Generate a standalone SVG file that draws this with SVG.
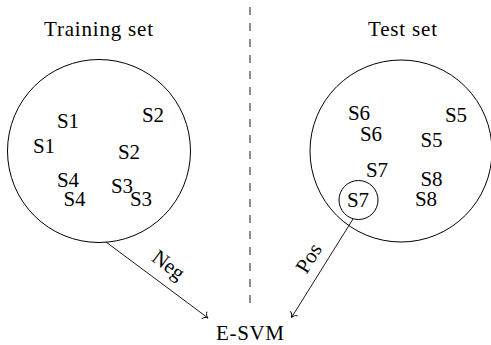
<svg xmlns="http://www.w3.org/2000/svg" width="491" height="345" viewBox="0 0 491 345">
  <defs>
    <style>
      text { font-family: "Liberation Serif", "DejaVu Serif", "Times New Roman", serif; font-size: 21px; fill: #000; text-anchor: middle; }
      .ring { fill: none; stroke: #000; stroke-width: 1; }
      .edge { fill: none; stroke: #000; stroke-width: 0.9; marker-end: url(#to); }
      .divider { fill: none; stroke: #000; stroke-width: 0.9; stroke-dasharray: 8 8; }
    </style>
    <marker id="to" markerUnits="userSpaceOnUse" viewBox="-6 -5 8 10" refX="0" refY="0" markerWidth="8" markerHeight="10" orient="auto" overflow="visible">
      <path d="M -4.5 -4 C -3.8 -1.8 -1.8 -0.4 0 0 C -1.8 0.4 -3.8 1.8 -4.5 4" fill="none" stroke="#000" stroke-width="0.9" stroke-linecap="round"/>
    </marker>
  </defs>

  <line class="divider" x1="250" y1="7" x2="250" y2="303"/>

  <g id="training">
    <text x="98.5" y="36" textLength="109" lengthAdjust="spacing">Training set</text>
    <circle class="ring" cx="99" cy="151" r="91.5"/>
    <text x="68" y="128">S1</text>
    <text x="44" y="153">S1</text>
    <text x="153" y="122">S2</text>
    <text x="129" y="159">S2</text>
    <text x="68" y="187">S4</text>
    <text x="74.5" y="206">S4</text>
    <text x="122" y="193">S3</text>
    <text x="141" y="206">S3</text>
  </g>

  <g id="test">
    <text x="402.5" y="36" textLength="69" lengthAdjust="spacing">Test set</text>
    <circle class="ring" cx="401" cy="151" r="91"/>
    <text x="359" y="120">S6</text>
    <text x="371" y="141">S6</text>
    <text x="456" y="122">S5</text>
    <text x="431.5" y="147">S5</text>
    <text x="377" y="177">S7</text>
    <text x="431.5" y="186">S8</text>
    <text x="426" y="206">S8</text>
  </g>

  <g id="s7">
    <circle class="ring" cx="358.5" cy="200" r="19.5"/>
    <text x="358" y="207">S7</text>
  </g>

  <g id="esvm">
    <text x="250" y="340" textLength="68" lengthAdjust="spacing">E-SVM</text>
  </g>

  <g id="connectors">
    <line class="edge" x1="106" y1="242" x2="208" y2="318"/>
    <text transform="translate(157.3 280.1) rotate(36.7)" x="0" y="-12">Neg</text>
    <line class="edge" x1="353" y1="219" x2="291.5" y2="317.5"/>
    <text transform="translate(323 267.1) rotate(-58)" x="0" y="-10">Pos</text>
  </g>
</svg>
